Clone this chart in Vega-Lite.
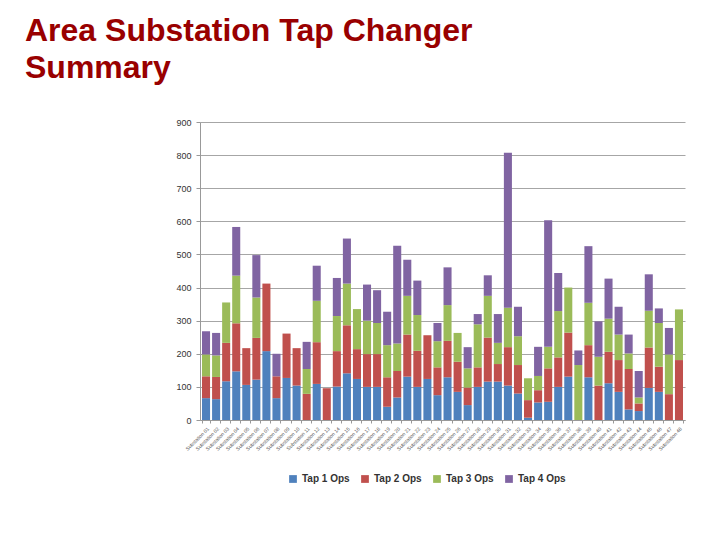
{
  "$schema": "https://vega.github.io/schema/vega-lite/v6.json",
  "width": 485,
  "height": 298,
  "autosize": {"type": "none"},
  "padding": {"left": 200, "top": 122, "right": 35, "bottom": 120},
  "background": "white",
  "title": {
    "text": ["Area Substation Tap Changer", "Summary"],
    "anchor": "start",
    "frame": "group",
    "dx": -175,
    "offset": 33,
    "font": "Liberation Sans",
    "fontSize": 32,
    "fontWeight": "bold",
    "color": "#990000",
    "lineHeight": 37
  },
  "data": {
    "values": [
      {"station": "Substation 01", "Tap 1 Ops": 66, "Tap 2 Ops": 66, "Tap 3 Ops": 66, "Tap 4 Ops": 70},
      {"station": "Substation 02", "Tap 1 Ops": 63, "Tap 2 Ops": 67, "Tap 3 Ops": 65, "Tap 4 Ops": 68},
      {"station": "Substation 03", "Tap 1 Ops": 117, "Tap 2 Ops": 116, "Tap 3 Ops": 122, "Tap 4 Ops": 0},
      {"station": "Substation 04", "Tap 1 Ops": 147, "Tap 2 Ops": 145, "Tap 3 Ops": 144, "Tap 4 Ops": 147},
      {"station": "Substation 05", "Tap 1 Ops": 106, "Tap 2 Ops": 111, "Tap 3 Ops": 0, "Tap 4 Ops": 0},
      {"station": "Substation 06", "Tap 1 Ops": 122, "Tap 2 Ops": 126, "Tap 3 Ops": 122, "Tap 4 Ops": 128},
      {"station": "Substation 07", "Tap 1 Ops": 208, "Tap 2 Ops": 204, "Tap 3 Ops": 0, "Tap 4 Ops": 0},
      {"station": "Substation 08", "Tap 1 Ops": 66, "Tap 2 Ops": 66, "Tap 3 Ops": 0, "Tap 4 Ops": 68},
      {"station": "Substation 09", "Tap 1 Ops": 127, "Tap 2 Ops": 134, "Tap 3 Ops": 0, "Tap 4 Ops": 0},
      {"station": "Substation 10", "Tap 1 Ops": 104, "Tap 2 Ops": 113, "Tap 3 Ops": 0, "Tap 4 Ops": 0},
      {"station": "Substation 11", "Tap 1 Ops": 0, "Tap 2 Ops": 79, "Tap 3 Ops": 75, "Tap 4 Ops": 82},
      {"station": "Substation 12", "Tap 1 Ops": 109, "Tap 2 Ops": 126, "Tap 3 Ops": 125, "Tap 4 Ops": 106},
      {"station": "Substation 13", "Tap 1 Ops": 0, "Tap 2 Ops": 96, "Tap 3 Ops": 0, "Tap 4 Ops": 0},
      {"station": "Substation 14", "Tap 1 Ops": 101, "Tap 2 Ops": 107, "Tap 3 Ops": 106, "Tap 4 Ops": 115},
      {"station": "Substation 15", "Tap 1 Ops": 141, "Tap 2 Ops": 145, "Tap 3 Ops": 126, "Tap 4 Ops": 136},
      {"station": "Substation 16", "Tap 1 Ops": 124, "Tap 2 Ops": 90, "Tap 3 Ops": 121, "Tap 4 Ops": 0},
      {"station": "Substation 17", "Tap 1 Ops": 100, "Tap 2 Ops": 99, "Tap 3 Ops": 101, "Tap 4 Ops": 109},
      {"station": "Substation 18", "Tap 1 Ops": 100, "Tap 2 Ops": 99, "Tap 3 Ops": 94, "Tap 4 Ops": 99},
      {"station": "Substation 19", "Tap 1 Ops": 40, "Tap 2 Ops": 89, "Tap 3 Ops": 97, "Tap 4 Ops": 101},
      {"station": "Substation 20", "Tap 1 Ops": 68, "Tap 2 Ops": 80, "Tap 3 Ops": 83, "Tap 4 Ops": 295},
      {"station": "Substation 21", "Tap 1 Ops": 131, "Tap 2 Ops": 127, "Tap 3 Ops": 117, "Tap 4 Ops": 109},
      {"station": "Substation 22", "Tap 1 Ops": 100, "Tap 2 Ops": 109, "Tap 3 Ops": 108, "Tap 4 Ops": 104},
      {"station": "Substation 23", "Tap 1 Ops": 124, "Tap 2 Ops": 132, "Tap 3 Ops": 0, "Tap 4 Ops": 0},
      {"station": "Substation 24", "Tap 1 Ops": 75, "Tap 2 Ops": 84, "Tap 3 Ops": 79, "Tap 4 Ops": 55},
      {"station": "Substation 25", "Tap 1 Ops": 129, "Tap 2 Ops": 110, "Tap 3 Ops": 108, "Tap 4 Ops": 114},
      {"station": "Substation 26", "Tap 1 Ops": 85, "Tap 2 Ops": 91, "Tap 3 Ops": 87, "Tap 4 Ops": 0},
      {"station": "Substation 27", "Tap 1 Ops": 45, "Tap 2 Ops": 53, "Tap 3 Ops": 58, "Tap 4 Ops": 64},
      {"station": "Substation 28", "Tap 1 Ops": 100, "Tap 2 Ops": 59, "Tap 3 Ops": 130, "Tap 4 Ops": 31},
      {"station": "Substation 29", "Tap 1 Ops": 116, "Tap 2 Ops": 133, "Tap 3 Ops": 126, "Tap 4 Ops": 62},
      {"station": "Substation 30", "Tap 1 Ops": 116, "Tap 2 Ops": 53, "Tap 3 Ops": 64, "Tap 4 Ops": 87},
      {"station": "Substation 31", "Tap 1 Ops": 104, "Tap 2 Ops": 116, "Tap 3 Ops": 119, "Tap 4 Ops": 468},
      {"station": "Substation 32", "Tap 1 Ops": 80, "Tap 2 Ops": 86, "Tap 3 Ops": 87, "Tap 4 Ops": 89},
      {"station": "Substation 33", "Tap 1 Ops": 7, "Tap 2 Ops": 53, "Tap 3 Ops": 66, "Tap 4 Ops": 0},
      {"station": "Substation 34", "Tap 1 Ops": 53, "Tap 2 Ops": 37, "Tap 3 Ops": 43, "Tap 4 Ops": 88},
      {"station": "Substation 35", "Tap 1 Ops": 55, "Tap 2 Ops": 101, "Tap 3 Ops": 65, "Tap 4 Ops": 382},
      {"station": "Substation 36", "Tap 1 Ops": 100, "Tap 2 Ops": 89, "Tap 3 Ops": 140, "Tap 4 Ops": 115},
      {"station": "Substation 37", "Tap 1 Ops": 131, "Tap 2 Ops": 133, "Tap 3 Ops": 136, "Tap 4 Ops": 0},
      {"station": "Substation 38", "Tap 1 Ops": 0, "Tap 2 Ops": 0, "Tap 3 Ops": 166, "Tap 4 Ops": 44},
      {"station": "Substation 39", "Tap 1 Ops": 129, "Tap 2 Ops": 97, "Tap 3 Ops": 128, "Tap 4 Ops": 171},
      {"station": "Substation 40", "Tap 1 Ops": 0, "Tap 2 Ops": 104, "Tap 3 Ops": 87, "Tap 4 Ops": 107},
      {"station": "Substation 41", "Tap 1 Ops": 111, "Tap 2 Ops": 95, "Tap 3 Ops": 100, "Tap 4 Ops": 121},
      {"station": "Substation 42", "Tap 1 Ops": 85, "Tap 2 Ops": 96, "Tap 3 Ops": 77, "Tap 4 Ops": 84},
      {"station": "Substation 43", "Tap 1 Ops": 32, "Tap 2 Ops": 122, "Tap 3 Ops": 47, "Tap 4 Ops": 57},
      {"station": "Substation 44", "Tap 1 Ops": 27, "Tap 2 Ops": 23, "Tap 3 Ops": 18, "Tap 4 Ops": 80},
      {"station": "Substation 45", "Tap 1 Ops": 97, "Tap 2 Ops": 122, "Tap 3 Ops": 111, "Tap 4 Ops": 110},
      {"station": "Substation 46", "Tap 1 Ops": 85, "Tap 2 Ops": 76, "Tap 3 Ops": 132, "Tap 4 Ops": 44},
      {"station": "Substation 47", "Tap 1 Ops": 0, "Tap 2 Ops": 78, "Tap 3 Ops": 120, "Tap 4 Ops": 80},
      {"station": "Substation 48", "Tap 1 Ops": 0, "Tap 2 Ops": 181, "Tap 3 Ops": 153, "Tap 4 Ops": 0}
    ]
  },
  "transform": [
    {"fold": ["Tap 1 Ops", "Tap 2 Ops", "Tap 3 Ops", "Tap 4 Ops"], "as": ["series", "ops"]}
  ],
  "mark": {"type": "bar"},
  "encoding": {
    "x": {
      "field": "station",
      "type": "nominal",
      "sort": null,
      "title": null,
      "scale": {"paddingInner": 0.2, "paddingOuter": 0.2},
      "axis": {
        "labelAngle": -45,
        "labelFontSize": 5,
        "labelFont": "Liberation Sans",
        "labelColor": "#555555",
        "labelPadding": 3,
        "tickBand": "extent",
        "tickSize": 3,
        "tickColor": "#999999",
        "domainColor": "#999999"
      }
    },
    "y": {
      "field": "ops",
      "type": "quantitative",
      "stack": "zero",
      "title": null,
      "scale": {"domain": [0, 900], "nice": false},
      "axis": {
        "values": [0, 100, 200, 300, 400, 500, 600, 700, 800, 900],
        "labelFontSize": 9,
        "labelFont": "Liberation Sans",
        "labelColor": "#333333",
        "labelPadding": 5,
        "tickSize": 4,
        "tickColor": "#999999",
        "domainColor": "#999999",
        "gridColor": "#a6a6a6",
        "gridWidth": 1
      }
    },
    "order": {"field": "series", "type": "nominal", "sort": "ascending"},
    "color": {
      "field": "series",
      "type": "nominal",
      "scale": {
        "domain": ["Tap 1 Ops", "Tap 2 Ops", "Tap 3 Ops", "Tap 4 Ops"],
        "range": ["#4F81BD", "#C0504D", "#9BBB59", "#8064A2"]
      },
      "legend": {
        "title": null,
        "orient": "none",
        "legendX": 88,
        "legendY": 352,
        "direction": "horizontal",
        "columns": 4,
        "columnPadding": 10,
        "symbolType": "square",
        "symbolSize": 60,
        "symbolStrokeWidth": 0,
        "labelFont": "Liberation Sans",
        "labelFontSize": 10,
        "labelFontWeight": "bold",
        "labelColor": "#333333",
        "labelOffset": 4
      }
    }
  },
  "config": {"view": {"stroke": null}}
}
